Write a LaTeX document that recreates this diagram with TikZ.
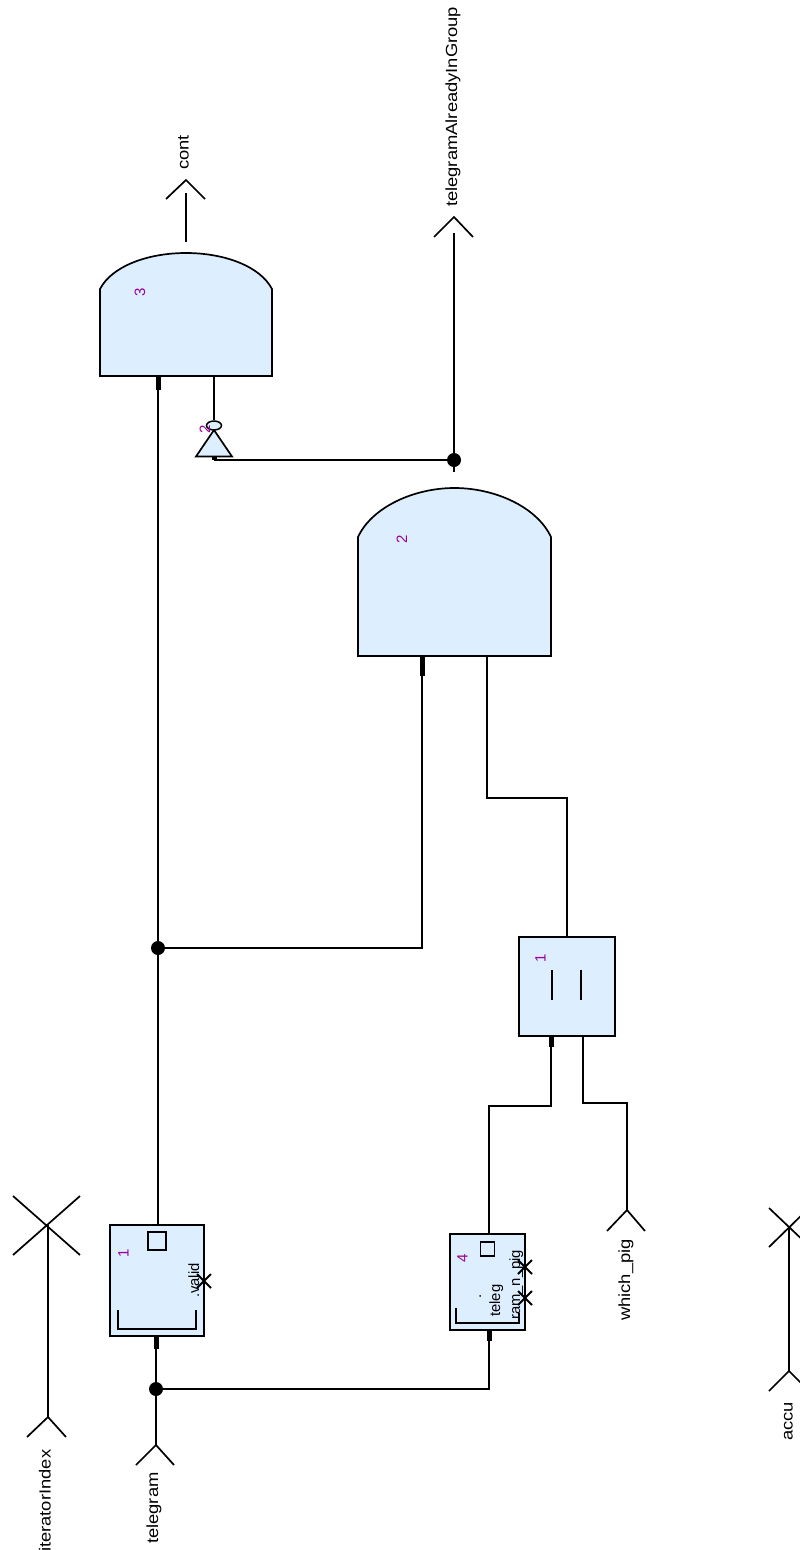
\documentclass[tikz,border=0pt]{standalone}
\usepackage{fontspec}
\usetikzlibrary{shapes.geometric}
\setmainfont{Liberation Sans}
\newfontfamily\widefont[FakeStretch=1.14]{Liberation Sans}
\definecolor{fillblue}{HTML}{DDEEFF}
\definecolor{numpurple}{HTML}{990099}
\tikzset{
  wire/.style={line width=1.6pt,line join=miter},
  stub/.style={line width=5pt},
  blockbox/.style={draw,fill=fillblue,line width=1.7pt,rectangle,inner sep=0pt},
  gateshape/.style={draw,fill=fillblue,line width=1.7pt,line join=miter},
  sym/.style={line width=1.7pt},
  crossmark/.style={line width=2pt},
  junction/.style={circle,fill=black,inner sep=0pt,minimum size=14pt},
  port/.style={rotate=90,anchor=base west,inner sep=0pt,font=\widefont\fontsize{16.1}{17}\selectfont},
  inner/.style={rotate=90,anchor=base west,inner sep=0pt,font=\fontsize{14.8}{16}\selectfont},
  num/.style={rotate=90,anchor=base,inner sep=0pt,text=numpurple,font=\fontsize{15}{16}\selectfont},
}
\begin{document}
\begin{tikzpicture}[x=1pt,y=-1pt]
\useasboundingbox (0,0) rectangle (800,1550);
% coordinates
\coordinate (g3top) at (186,242);
\coordinate (g3L) at (158,376);
\coordinate (g3Ls) at (158,390);
\coordinate (g3R) at (214,376);
\coordinate (g2L) at (422,656);
\coordinate (g2Ls) at (422,676);
\coordinate (g2R) at (487,656);
\coordinate (g2top) at (454,472);
\coordinate (bubtop) at (214,420);
\coordinate (invS) at (214,456);
\coordinate (invE) at (214,460);
\coordinate (contA) at (186,180);
\coordinate (tagA) at (454,217);
% gates
\path[gateshape] (100,376) -- (100,289) .. controls (112,266) and (148,253) .. (186,253) .. controls (224,253) and (260,266) .. (272,289) -- (272,376) -- cycle;
\path[gateshape] (358,656) -- (358,537) .. controls (372,507) and (414,488) .. (454.5,488) .. controls (495,488) and (537,507) .. (551,537) -- (551,656) -- cycle;
\path[gateshape] (214,430) -- (232,456.5) -- (196,456.5) -- cycle;
\node[draw,fill=fillblue,line width=1.5pt,ellipse,inner sep=0pt,minimum width=15pt,minimum height=9pt] (bub) at (214,425.5) {};
% blocks
\node[blockbox,minimum width=96pt,minimum height=99pt] (eq) at (567,986.5) {};
\node[blockbox,minimum width=94pt,minimum height=111pt] (b1) at (157,1280.5) {};
\node[blockbox,minimum width=75pt,minimum height=96pt] (b4) at (487.5,1282) {};
% block contents
\node[draw,line width=1.6pt,minimum size=18pt,inner sep=0pt] (sq1) at (157,1241) {};
\node[draw,line width=1.5pt,minimum size=14pt,inner sep=0pt] (sq4) at (487.5,1249) {};
\draw[sym] (552,970) -- (552,1000) (581,970) -- (581,1000);
\draw[sym] (118,1310) -- (118,1329) -- (196,1329) -- (196,1310);
\draw[sym] (456,1308) -- (456,1323) -- (519,1323) -- (519,1313);
% wires
\coordinate (j1) at (158,948);
\coordinate (j2) at (156,1389);
\coordinate (j3) at (454,460);
\draw[wire] (g3top) -- (186,193);
\draw[wire] (g3Ls) -- (158,1225);
\draw[stub] (g3L) -- (g3Ls);
\draw[wire] (g3R) -- (bubtop);
\draw[wire] (invE) -- (j3);
\draw[stub] (invS) -- (invE);
\draw[wire] (g2top) -- (454,233);
\draw[wire] (j1) -- (422,948) -- (g2Ls);
\draw[stub] (g2L) -- (g2Ls);
\draw[wire] (g2R) -- (487,798) -- (567,798) -- (567,937);
\draw[wire] (551,1047) -- (551,1106) -- (489,1106) -- (489,1234);
\draw[stub] (551,1036) -- (551,1047);
\draw[wire] (583,1036) -- (583,1103) -- (627,1103) -- (627,1211);
\draw[stub] (156,1336) -- (156,1349);
\draw[wire] (156,1349) -- (156,1445);
\draw[wire] (j2) -- (489,1389) -- (489,1341);
\draw[stub] (489,1330) -- (489,1341);
\draw[wire] (48,1225) -- (48,1417);
\draw[wire] (789,1227) -- (789,1371);
% junctions
\node[junction] (dot1) at (j1) {};
\node[junction] (dot2) at (j2) {};
\node[junction] (dot3) at (j3) {};
% port symbols
\draw[sym] (166,199) -- (contA) -- (205,199);
\draw[sym] (434,237) -- (tagA) -- (473,237);
\draw[sym] (607,1231) -- (627,1210) -- (645,1231);
\draw[sym] (136,1465) -- (156,1445) -- (174,1465);
\draw[sym] (27,1437) -- (48,1417) -- (66,1437);
\draw[sym] (769,1391) -- (789,1371) -- (809,1391);
\draw[sym] (13,1196) -- (80,1255) (13,1255) -- (80,1196);
\draw[sym] (769,1208) -- (809,1246) (769,1247) -- (809,1208);
% crosses
\draw[crossmark] (197,1274) -- (211,1288) (197,1288) -- (211,1274);
\draw[crossmark] (518,1260) -- (532,1274) (518,1274) -- (532,1260);
\draw[crossmark] (518,1291) -- (532,1305) (518,1305) -- (532,1291);
% texts
\node[port] (tcont) at (188.5,170) {cont};
\node[port] (ttag) at (457,207) {telegramAlreadyInGroup};
\node[port] (tpig) at (630,1321) {which\_pig};
\node[port] (ttel) at (158,1544) {telegram};
\node[port] (titer) at (50.5,1552) {iteratorIndex};
\node[port] (taccu) at (792.5,1441) {accu};
\node[inner] (tvalid) at (199,1298) {.valid};
\node[inner] (tteleg) at (500,1317) {teleg};
\node[inner] (tram) at (520,1320) {ram\_n\_pig};
\node[inner] (tdot) at (481,1299) {.};
\node[num] (n3) at (145,292) {3};
\node[num] (n2) at (407,539) {2};
\node[num] (n1a) at (128.5,1253) {1};
\node[num] (n1b) at (545.5,958) {1};
\node[num] (n4) at (467.5,1258) {4};
\node[num] (n2b) at (210,429) {2};
\end{tikzpicture}
\end{document}
